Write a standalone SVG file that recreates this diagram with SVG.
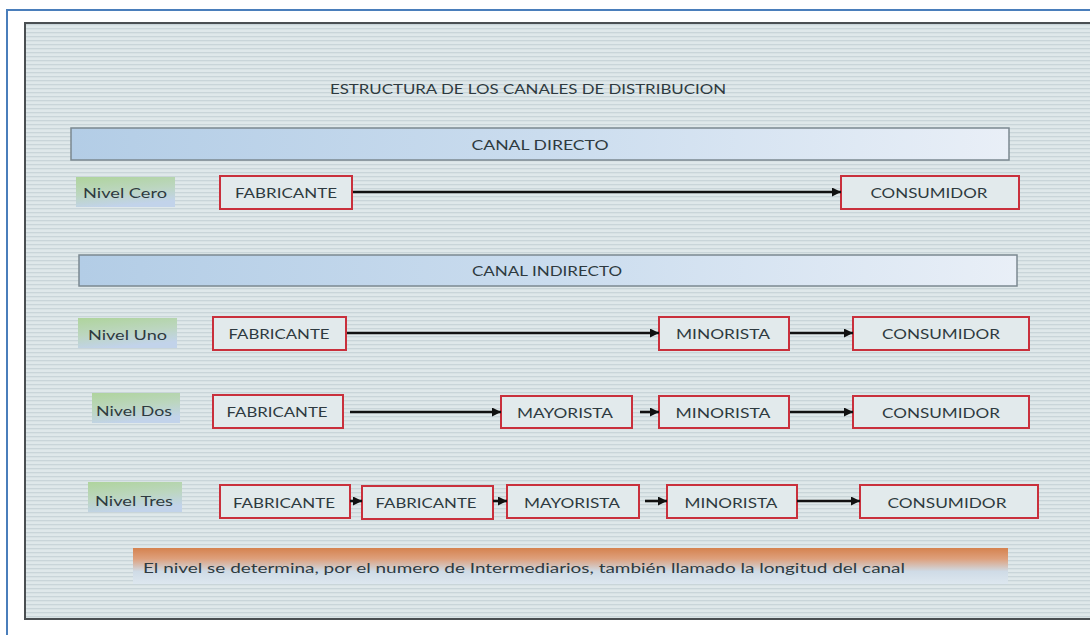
<svg xmlns="http://www.w3.org/2000/svg" width="1090" height="635" viewBox="0 0 1090 635">
<defs>
<pattern id="stripes" x="0" y="0" width="8" height="4" patternUnits="userSpaceOnUse">
<rect width="8" height="4" fill="#dfe8ea"/>
<rect y="0" width="8" height="1.3" fill="#c9d5d9"/>
</pattern>
<linearGradient id="bar" x1="0" y1="0" x2="1" y2="0">
<stop offset="0" stop-color="#b3cde6"/>
<stop offset="0.5" stop-color="#cadcee"/>
<stop offset="1" stop-color="#e9eff7"/>
</linearGradient>
<linearGradient id="nivel" x1="0" y1="0" x2="0.3" y2="1">
<stop offset="0" stop-color="#afd49c"/>
<stop offset="0.55" stop-color="#bcd6c0"/>
<stop offset="1" stop-color="#c2d3ea"/>
</linearGradient>
<linearGradient id="banner" x1="0" y1="0" x2="0" y2="1">
<stop offset="0" stop-color="#d5824f"/>
<stop offset="0.3" stop-color="#dea07c"/>
<stop offset="0.65" stop-color="#cfdbe6"/>
<stop offset="1" stop-color="#dde7ef"/>
</linearGradient>
<marker id="arr" viewBox="0 0 10 10" refX="10" refY="5" markerWidth="10" markerHeight="9" markerUnits="userSpaceOnUse" orient="auto">
<path d="M0,0 L10,5 L0,10 z" fill="#111"/>
</marker>
<style>
.t{font-family:"Lato","Open Sans","Liberation Sans",sans-serif;fill:#2e3a40;dominant-baseline:central;text-anchor:middle}
.box{fill:#e2eaec;stroke:#c9303c;stroke-width:2}
.lvl{fill:url(#nivel)}
.barr{fill:url(#bar);stroke:#7b8890;stroke-width:1.5}
.con{stroke:#111;stroke-width:2.6;fill:none;marker-end:url(#arr)}
</style>
</defs>
<rect x="0" y="0" width="1090" height="635" fill="#ffffff"/>
<rect x="7" y="10" width="1100" height="640" fill="none" stroke="#4a7ebb" stroke-width="2"/>
<g id="frame">
<rect x="25" y="23" width="1080" height="596" fill="url(#stripes)" stroke="#4a4f52" stroke-width="2"/>
</g>
<text class="t" x="528" y="88" font-size="14" textLength="396" lengthAdjust="spacingAndGlyphs">ESTRUCTURA DE LOS CANALES DE DISTRIBUCION</text>
<g id="canal-directo">
<rect class="barr" x="71" y="128" width="938" height="32"/>
<text class="t" x="540" y="144" font-size="14" textLength="137" lengthAdjust="spacingAndGlyphs">CANAL DIRECTO</text>
</g>
<g id="canal-indirecto">
<rect class="barr" x="79" y="255" width="938" height="31"/>
<text class="t" x="547" y="270" font-size="14" textLength="150" lengthAdjust="spacingAndGlyphs">CANAL INDIRECTO</text>
</g>
<g id="nivel-cero"><rect class="lvl" x="76" y="177" width="99" height="30"/><text class="t" x="125" y="192" font-size="14" textLength="84" lengthAdjust="spacingAndGlyphs">Nivel Cero</text></g>
<g id="nivel-uno"><rect class="lvl" x="78" y="318" width="99" height="30"/><text class="t" x="127.5" y="334" font-size="14" textLength="79" lengthAdjust="spacingAndGlyphs">Nivel Uno</text></g>
<g id="nivel-dos"><rect class="lvl" x="92" y="393" width="88" height="30"/><text class="t" x="134" y="410" font-size="14" textLength="76" lengthAdjust="spacingAndGlyphs">Nivel Dos</text></g>
<g id="nivel-tres"><rect class="lvl" x="88" y="482" width="94" height="30"/><text class="t" x="134" y="500" font-size="14" textLength="78" lengthAdjust="spacingAndGlyphs">Nivel Tres</text></g>

<g id="cero-fabricante"><rect class="box" x="220" y="176" width="132" height="33"/><text class="t" x="286" y="192" font-size="14" textLength="102" lengthAdjust="spacingAndGlyphs">FABRICANTE</text></g>
<g id="cero-consumidor"><rect class="box" x="841" y="176" width="178" height="33"/><text class="t" x="929" y="192" font-size="14" textLength="117" lengthAdjust="spacingAndGlyphs">CONSUMIDOR</text></g>

<g id="uno-fabricante"><rect class="box" x="213" y="317" width="133" height="33"/><text class="t" x="279" y="333" font-size="14" textLength="101" lengthAdjust="spacingAndGlyphs">FABRICANTE</text></g>
<g id="uno-minorista"><rect class="box" x="659" y="317" width="130" height="33"/><text class="t" x="723" y="333" font-size="14" textLength="94" lengthAdjust="spacingAndGlyphs">MINORISTA</text></g>
<g id="uno-consumidor"><rect class="box" x="853" y="317" width="176" height="33"/><text class="t" x="941" y="333" font-size="14" textLength="118" lengthAdjust="spacingAndGlyphs">CONSUMIDOR</text></g>

<g id="dos-fabricante"><rect class="box" x="213" y="395" width="130" height="33"/><text class="t" x="277" y="411" font-size="14" textLength="101" lengthAdjust="spacingAndGlyphs">FABRICANTE</text></g>
<g id="dos-mayorista"><rect class="box" x="501" y="396" width="131" height="32"/><text class="t" x="565" y="412" font-size="14" textLength="96" lengthAdjust="spacingAndGlyphs">MAYORISTA</text></g>
<g id="dos-minorista"><rect class="box" x="659" y="396" width="130" height="32"/><text class="t" x="723" y="412" font-size="14" textLength="95" lengthAdjust="spacingAndGlyphs">MINORISTA</text></g>
<g id="dos-consumidor"><rect class="box" x="853" y="396" width="176" height="32"/><text class="t" x="941" y="412" font-size="14" textLength="118" lengthAdjust="spacingAndGlyphs">CONSUMIDOR</text></g>

<g id="tres-fabricante-1"><rect class="box" x="220" y="485" width="130" height="33"/><text class="t" x="284" y="502" font-size="14" textLength="102" lengthAdjust="spacingAndGlyphs">FABRICANTE</text></g>
<g id="tres-fabricante-2"><rect class="box" x="362" y="486" width="131" height="33"/><text class="t" x="426" y="502" font-size="14" textLength="101" lengthAdjust="spacingAndGlyphs">FABRICANTE</text></g>
<g id="tres-mayorista"><rect class="box" x="507" y="485" width="132" height="33"/><text class="t" x="572" y="502" font-size="14" textLength="96" lengthAdjust="spacingAndGlyphs">MAYORISTA</text></g>
<g id="tres-minorista"><rect class="box" x="667" y="485" width="130" height="33"/><text class="t" x="731" y="502" font-size="14" textLength="93" lengthAdjust="spacingAndGlyphs">MINORISTA</text></g>
<g id="tres-consumidor"><rect class="box" x="860" y="485" width="178" height="33"/><text class="t" x="947" y="502" font-size="14" textLength="119" lengthAdjust="spacingAndGlyphs">CONSUMIDOR</text></g>

<g id="connectors">
<line class="con" x1="353" y1="192" x2="841" y2="192"/>
<line class="con" x1="347" y1="333" x2="659" y2="333"/>
<line class="con" x1="790" y1="333" x2="853" y2="333"/>
<line class="con" x1="350" y1="412" x2="501" y2="412"/>
<line class="con" x1="640" y1="412" x2="659" y2="412"/>
<line class="con" x1="790" y1="412" x2="853" y2="412"/>
<line class="con" x1="350" y1="501" x2="362" y2="501"/>
<line class="con" x1="493" y1="501" x2="507" y2="501"/>
<line class="con" x1="645" y1="501" x2="667" y2="501"/>
<line class="con" x1="797" y1="501" x2="860" y2="501"/>
</g>

<g id="banner">
<rect x="133" y="548" width="875" height="36" fill="url(#banner)"/>
<text class="t" x="524" y="567" font-size="14" textLength="762" lengthAdjust="spacingAndGlyphs" style="text-anchor:middle">El nivel se determina, por el numero de Intermediarios, también llamado la longitud del canal</text>
</g>
</svg>
